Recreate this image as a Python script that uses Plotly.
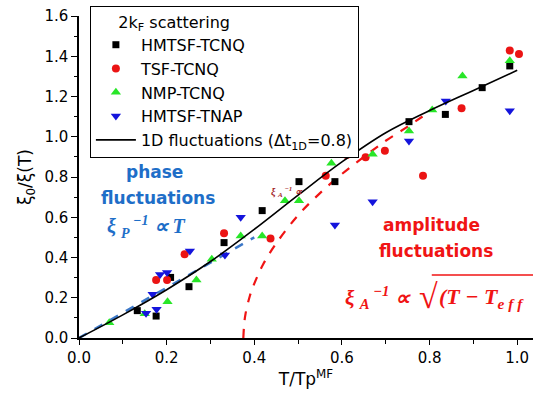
import plotly.graph_objects as go

# ---- data ----
hmtsf_tcnq_x = [0.133, 0.176, 0.209, 0.251, 0.331, 0.418, 0.502, 0.584, 0.753, 0.836, 0.920, 0.983]
hmtsf_tcnq_y = [0.136, 0.109, 0.301, 0.255, 0.474, 0.633, 0.777, 0.777, 1.075, 1.111, 1.244, 1.352]

tsf_tcnq_x = [0.176, 0.201, 0.241, 0.331, 0.437, 0.563, 0.611, 0.654, 0.698, 0.785, 0.873, 0.983, 1.004]
tsf_tcnq_y = [0.288, 0.288, 0.416, 0.520, 0.495, 0.806, 0.909, 0.898, 0.931, 0.806, 1.141, 1.428, 1.411]

nmp_tcnq_x = [0.069, 0.150, 0.202, 0.268, 0.303, 0.369, 0.418, 0.470, 0.502, 0.576, 0.670, 0.753, 0.806, 0.875, 0.983]
nmp_tcnq_y = [0.076, 0.120, 0.180, 0.288, 0.391, 0.507, 0.507, 0.682, 0.682, 0.868, 0.913, 1.029, 1.133, 1.302, 1.378]

hmtsf_tnap_x = [0.153, 0.177, 0.168, 0.185, 0.201, 0.253, 0.333, 0.369, 0.584, 0.670, 0.753, 0.837, 0.983]
hmtsf_tnap_y = [0.123, 0.143, 0.217, 0.316, 0.326, 0.432, 0.412, 0.600, 0.561, 0.677, 0.979, 1.178, 1.129]

fluct1d_x = [0.0, 0.1, 0.2, 0.3, 0.4, 0.5, 0.6, 0.7, 0.8, 0.9, 1.0]
fluct1d_y = [0.0, 0.115, 0.24, 0.38, 0.54, 0.71, 0.875, 1.02, 1.13, 1.23, 1.33]

phase_x = [0.0, 0.40]
phase_y = [0.0, 0.50]

ampl_x = [0.375, 0.377, 0.38, 0.39, 0.40, 0.42, 0.45, 0.50, 0.55, 0.60, 0.65, 0.70, 0.75, 0.79]
ampl_y = [0.0, 0.07, 0.12, 0.21, 0.27, 0.365, 0.47, 0.61, 0.72, 0.815, 0.90, 0.98, 1.05, 1.11]

x_ticks = [0.0, 0.2, 0.4, 0.6, 0.8, 1.0]
y_ticks = [0.0, 0.2, 0.4, 0.6, 0.8, 1.0, 1.2, 1.4, 1.6]

SANS = "DejaVu Sans"
SERIF = "Liberation Serif"
BLUE_TXT = "rgb(30,110,200)"
RED_TXT = "rgb(240,20,20)"
NB = "\u00a0"

fig = go.Figure()

fig.add_trace(go.Scatter(x=phase_x, y=phase_y, mode="lines", showlegend=False,
                         line=dict(color="rgb(60,120,200)", width=2.5, dash="dash")))
fig.add_trace(go.Scatter(x=ampl_x, y=ampl_y, mode="lines", showlegend=False,
                         line=dict(color="rgb(240,20,20)", width=2.2, dash="dash", shape="spline")))

fig.add_trace(go.Scatter(x=hmtsf_tcnq_x, y=hmtsf_tcnq_y, mode="markers", name="HMTSF-TCNQ",
                         marker=dict(symbol="square", size=7, color="black")))
fig.add_trace(go.Scatter(x=tsf_tcnq_x, y=tsf_tcnq_y, mode="markers", name="TSF-TCNQ",
                         marker=dict(symbol="circle", size=8, color="rgb(235,20,20)")))
fig.add_trace(go.Scatter(x=nmp_tcnq_x, y=nmp_tcnq_y, mode="markers", name="NMP-TCNQ",
                         marker=dict(symbol="triangle-up", size=9, color="rgb(40,230,40)")))
fig.add_trace(go.Scatter(x=hmtsf_tnap_x, y=hmtsf_tnap_y, mode="markers", name="HMTSF-TNAP",
                         marker=dict(symbol="triangle-down", size=9, color="rgb(20,20,220)")))
fig.add_trace(go.Scatter(x=fluct1d_x, y=fluct1d_y, mode="lines",
                         name="1D fluctuations (Δt<sub>1D</sub>=0.8)",
                         line=dict(color="black", width=1.6, shape="spline")))

BOLD_SANS_B = dict(family=SANS, size=17, color=BLUE_TXT, weight="bold")
BOLD_SANS_R = dict(family=SANS, size=17, color=RED_TXT, weight="bold")
anns = [
    dict(x=0.173, y=0.825, text="phase", font=BOLD_SANS_B),
    dict(x=0.180, y=0.696, text="fluctuations", font=BOLD_SANS_B),
    dict(x=0.155, y=0.55, text="ξ <sub>P</sub><sup> −1</sup> ∝ T",
         font=dict(family=SERIF, size=20, color=BLUE_TXT, weight="bold", style="italic")),
    dict(x=0.805, y=0.561, text="amplitude", font=BOLD_SANS_R),
    dict(x=0.814, y=0.432, text="fluctuations", font=BOLD_SANS_R),
    dict(x=0.602, y=0.199, xanchor="left", text="ξ" + NB + "<sub>A</sub><sup> −1</sup>" + NB + "∝",
         font=dict(family=SERIF, size=21, color=RED_TXT, weight="bold", style="italic")),
    dict(x=0.797, y=0.205, text="√",
         font=dict(family=SERIF, size=34, color=RED_TXT)),
    dict(x=0.817, y=0.199, xanchor="left",
         text="(T" + NB + "−" + NB + "T<sub>e" + NB + "f" + NB + "f</sub>",
         font=dict(family=SERIF, size=22, color=RED_TXT, weight="bold", style="italic")),
    dict(x=0.475, y=0.725, text="ξ <sub>A</sub><sup> −1</sup> ∝",
         font=dict(family=SERIF, size=10, color="rgb(165,40,40)", weight="bold", style="italic")),
]
for a in anns:
    a.setdefault("xanchor", "center")
    a.update(xref="x", yref="y", showarrow=False, yanchor="middle")
    fig.add_annotation(**a)

# overline of the square root
fig.add_shape(type="line", xref="x", yref="y", x0=0.805, x1=1.036, y0=0.313, y1=0.313,
              line=dict(color=RED_TXT, width=1.5))

fig.update_layout(
    width=534, height=395,
    margin=dict(l=79, r=1, t=16, b=57),
    paper_bgcolor="white", plot_bgcolor="white",
    font=dict(family=SANS, size=15, color="black"),
    legend=dict(
        x=0.024, y=1.031, xanchor="left", yanchor="top",
        bordercolor="black", borderwidth=1, bgcolor="white",
        font=dict(family=SANS, size=16),
        title=dict(text=NB * 5 + "2k<sub>F</sub> scattering", font=dict(family=SANS, size=16)),
        tracegroupgap=0, itemwidth=40,
    ),
    xaxis=dict(
        range=[0, 1.036], tickvals=x_ticks, ticktext=[f"{v:.1f}" for v in x_ticks],
        showline=True, linecolor="black", linewidth=1.5, mirror=False,
        ticks="outside", ticklen=5, tickcolor="black", tickwidth=1.2,
        minor=dict(dtick=0.1, ticks="outside", ticklen=4, tickcolor="black"),
        showgrid=False, zeroline=False,
        tickfont=dict(size=15),
        title=dict(text="T/Tp<sup>MF</sup>", font=dict(size=17), standoff=4),
    ),
    yaxis=dict(
        range=[0, 1.6], tickvals=y_ticks, ticktext=[f"{v:.1f}" for v in y_ticks],
        showline=True, linecolor="black", linewidth=1.5, mirror=False,
        ticks="outside", ticklen=6, tickcolor="black", tickwidth=1.2,
        minor=dict(dtick=0.1, ticks="outside", ticklen=3, tickcolor="black"),
        showgrid=False, zeroline=False,
        tickfont=dict(size=15),
        title=dict(text="ξ<sub>0</sub>/ξ(T)", font=dict(size=17), standoff=8),
    ),
)

fig.write_html("out.html")
